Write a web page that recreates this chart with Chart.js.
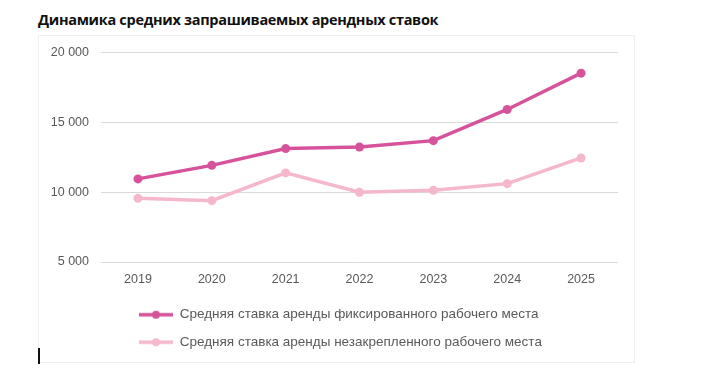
<!DOCTYPE html>
<html><head><meta charset="utf-8">
<script src="https://cdn.jsdelivr.net/npm/chart.js@4"></script>
<style>
html,body{margin:0;padding:0;background:#fff;width:715px;height:381px;overflow:hidden;}
#title{position:absolute;left:38px;top:10px;font-family:"Open Sans",sans-serif;font-weight:700;font-size:14.5px;color:#111;letter-spacing:-0.3px;white-space:nowrap;}
#card{position:absolute;left:38px;top:35px;width:597px;height:328px;border:1px solid #efefef;box-sizing:border-box;}
#card canvas{position:absolute;left:0;top:-3px;}
#mark{position:absolute;left:38px;top:348px;width:2px;height:16px;background:#111;}
</style></head><body>
<div id="title">Динамика средних запрашиваемых арендных ставок</div>
<div id="card"><canvas id="c" width="597" height="332"></canvas></div>
<div id="mark"></div>
<script>
const years = ['2019','2020','2021','2022','2023','2024','2025'];
const fixedRate = [10950, 11920, 13120, 13230, 13690, 15920, 18520];
const flexRate = [9560, 9390, 11380, 9990, 10130, 10610, 12450];
const seriesNames = ['Средняя ставка аренды фиксированного рабочего места','Средняя ставка аренды незакрепленного рабочего места'];
const yTicks = [5000, 10000, 15000, 20000];
const colors = ['#d6539c', '#f5b8cb'];

function marker(color){
  const c = document.createElement('canvas');
  c.width = 34; c.height = 10;
  const g = c.getContext('2d');
  g.strokeStyle = color; g.lineWidth = 3.5;
  g.beginPath(); g.moveTo(0,5); g.lineTo(34,5); g.stroke();
  g.fillStyle = color; g.beginPath(); g.arc(17,5,4,0,Math.PI*2); g.fill();
  return c;
}
const markers = colors.map(marker);
const fmt = v => String(v).replace(/\B(?=(\d{3})+(?!\d))/g, ' ');
const tickFont = {family:'"Liberation Sans",Arial,sans-serif', size:12.5};

const shiftLegend = {
  id:'shiftLegend',
  afterLayout(chart){ const l = chart.legend; if(l){ l.left += 86; l.right += 86; l.top -= 3; l.bottom -= 3; } }
};

new Chart(document.getElementById('c'), {
  type:'line',
  data:{labels:years, datasets:[
    {label:seriesNames[0], data:fixedRate, borderColor:colors[0], backgroundColor:colors[0], borderWidth:3.5, pointRadius:4.5, pointBorderWidth:0, pointHoverRadius:4.5, pointStyle:'circle', tension:0},
    {label:seriesNames[1], data:flexRate, borderColor:colors[1], backgroundColor:colors[1], borderWidth:3.5, pointRadius:4.5, pointBorderWidth:0, pointHoverRadius:4.5, pointStyle:'circle', tension:0}
  ]},
  options:{
    responsive:false, animation:false,
    layout:{padding:{left:0,right:18,top:4,bottom:3}},
    scales:{
      x:{offset:true, grid:{display:false, drawTicks:false}, border:{display:false},
         ticks:{color:'#595959', font:tickFont, padding:10}},
      y:{min:5000, max:20000, afterBuildTicks:s=>{s.ticks=yTicks.map(v=>({value:v}));},
         afterFit:s=>{s.width=62;},
         grid:{color:'#d9d9d9', lineWidth:1, drawTicks:false}, border:{display:false},
         ticks:{color:'#595959', font:tickFont, padding:12, callback:v=>fmt(v)}}
    },
    plugins:{
      tooltip:{enabled:false},
      legend:{position:'bottom', align:'start',
        labels:{usePointStyle:true, pointStyleWidth:34, boxHeight:10, color:'#595959', padding:14,
          font:{family:'"Liberation Sans",Arial,sans-serif', size:13.5},
          generateLabels:ch=>ch.data.datasets.map((d,i)=>({text:d.label, fillStyle:colors[i], strokeStyle:colors[i], lineWidth:0, pointStyle:markers[i], datasetIndex:i, fontColor:'#595959'}))
        }}
    }
  },
  plugins:[shiftLegend]
});
</script>
</body></html>
